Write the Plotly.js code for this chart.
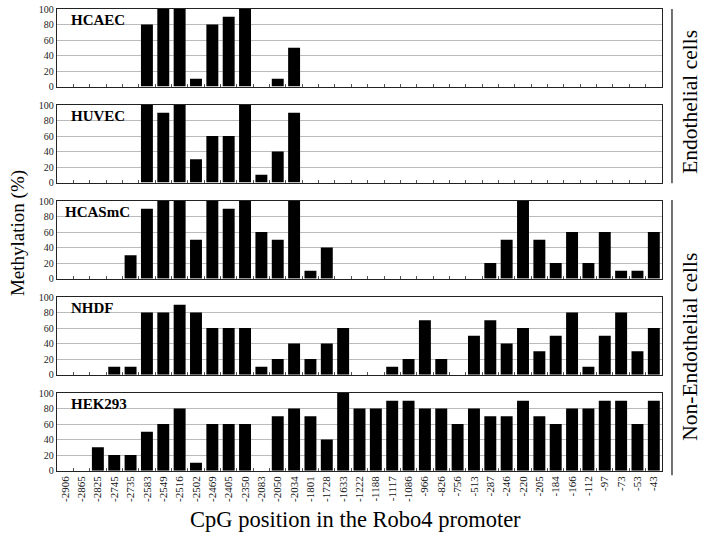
<!DOCTYPE html>
<html>
<head>
<meta charset="utf-8">
<script src="https://cdn.plot.ly/plotly-3.0.1.min.js"></script>
<style>html,body{margin:0;padding:0;background:#fff;}#chart{width:704px;height:535px;}</style>
</head>
<body>
<div id="chart"></div>
<script>
const positions = ["-2906","-2865","-2825","-2745","-2735","-2583","-2549","-2516","-2502","-2469","-2405","-2350","-2083","-2050","-2034","-1801","-1728","-1633","-1222","-1188","-1117","-1086","-966","-826","-756","-513","-287","-246","-220","-205","-184","-166","-112","-97","-73","-53","-43"];
const cellLines = ["HCAEC","HUVEC","HCASmC","NHDF","HEK293"];
const HCAEC  = [0,0,0,0,0,80,100,100,10,80,90,100,0,10,50,0,0,0,0,0,0,0,0,0,0,0,0,0,0,0,0,0,0,0,0,0,0];
const HUVEC  = [0,0,0,0,0,100,90,100,30,60,60,100,10,40,90,0,0,0,0,0,0,0,0,0,0,0,0,0,0,0,0,0,0,0,0,0,0];
const HCASmC = [0,0,0,0,30,90,100,100,50,100,90,100,60,50,100,10,40,0,0,0,0,0,0,0,0,0,20,50,100,50,20,60,20,60,10,10,60];
const NHDF   = [0,0,0,10,10,80,80,90,80,60,60,60,10,20,40,20,40,60,0,0,10,20,70,20,0,50,70,40,60,30,50,80,10,50,80,30,60];
const HEK293 = [0,0,30,20,20,50,60,80,10,60,60,60,0,70,80,70,40,100,80,80,90,90,80,80,60,80,70,70,90,70,60,80,80,90,90,60,90];
const series = [HCAEC, HUVEC, HCASmC, NHDF, HEK293];
const yTicks = [0,20,40,60,80,100];

const serif = "Liberation Serif, Times New Roman, serif";
const H = 0.168, STEP = 0.2078;
const traces = [], annotations = [];
const layout = {
  width: 704, height: 535,
  margin: {l: 57, r: 42, t: 9, b: 64},
  paper_bgcolor: "#fff", plot_bgcolor: "#fff",
  showlegend: false, bargap: 0.27,
  font: {family: serif, color: "#111"},
  shapes: [], annotations: annotations
};
series.forEach((vals, i) => {
  const n = i + 1;
  const xa = "x" + (n === 1 ? "" : n), ya = "y" + (n === 1 ? "" : n);
  traces.push({type: "bar", x: positions, y: vals, xaxis: xa, yaxis: ya,
    marker: {color: "#000", line: {width: 0}}, hoverinfo: "x+y"});
  const top = 1 - i * STEP;
  layout["xaxis" + (n === 1 ? "" : n)] = {
    type: "category", categoryorder: "array", categoryarray: positions,
    anchor: ya, domain: [0, 1],
    showline: true, mirror: true, linecolor: "#222", linewidth: 1.3,
    ticks: "inside", ticklen: 3, tickcolor: "#555", tickson: "boundaries",
    showgrid: false, showticklabels: i === 4, tickangle: -90,
    tickfont: {family: serif, size: 11, color: "#111"}, fixedrange: true
  };
  layout["yaxis" + (n === 1 ? "" : n)] = {
    anchor: xa, domain: [top - H, top], range: [0, 100],
    tickvals: yTicks, ticktext: yTicks.map(String),
    showline: true, mirror: true, linecolor: "#222", linewidth: 1.3,
    showgrid: true, gridcolor: "#bbb", gridwidth: 1, zeroline: false,
    ticks: "", tickfont: {family: serif, size: 10, color: "#222"}, fixedrange: true
  };
  annotations.push({text: "<b>" + cellLines[i] + "</b>", xref: xa + " domain", yref: ya + " domain",
    x: i === 2 ? 0.01 : 0.02, y: 1, xanchor: "left", yanchor: "top", yshift: -1, showarrow: false,
    font: {family: serif, size: 15, color: "#000"}});
});
annotations.push({text: "Methylation (%)", xref: "paper", yref: "paper", x: -0.0645, y: 0.515,
  xanchor: "center", yanchor: "middle",
  textangle: -90, showarrow: false, font: {family: serif, size: 19, color: "#000"}});
annotations.push({text: "CpG position in the Robo4 promoter", xref: "paper", yref: "paper", x: 0.4926, y: -0.106,
  xanchor: "center", yanchor: "middle",
  showarrow: false, font: {family: serif, size: 22.5, color: "#000"}});
annotations.push({text: "Endothelial cells", xref: "paper", yref: "paper", x: 1.047, y: 0.80,
  xanchor: "center", yanchor: "middle",
  textangle: -90, showarrow: false, font: {family: serif, size: 21.5, color: "#000"}});
annotations.push({text: "Non-Endothelial cells", xref: "paper", yref: "paper", x: 1.047, y: 0.27,
  xanchor: "center", yanchor: "middle",
  textangle: -90, showarrow: false, font: {family: serif, size: 21.5, color: "#000"}});
layout.shapes.push({type: "line", xref: "paper", yref: "paper", x0: 1.0165, x1: 1.0165, y0: 1.0, y1: 0.623,
  line: {color: "#444", width: 1.5}});
layout.shapes.push({type: "line", xref: "paper", yref: "paper", x0: 1.0165, x1: 1.0165, y0: 0.5866, y1: -0.009,
  line: {color: "#444", width: 1.5}});

Plotly.newPlot("chart", traces, layout, {displayModeBar: false, staticPlot: true});
</script>
</body>
</html>
